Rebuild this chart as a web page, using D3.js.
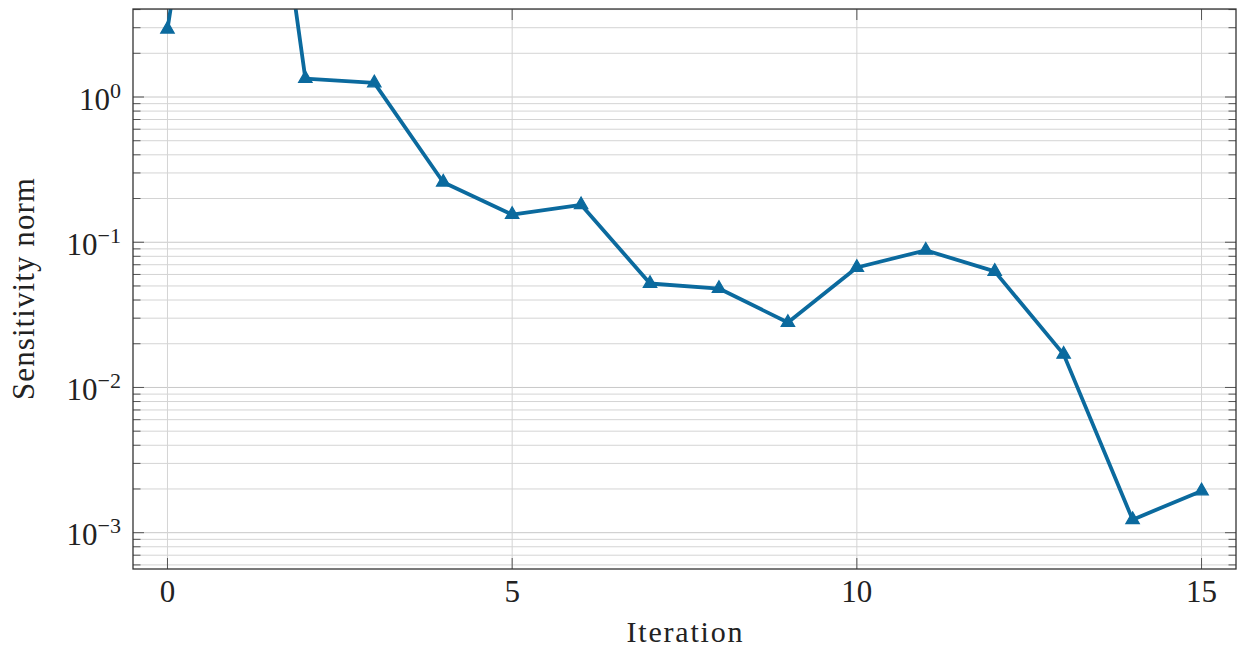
<!DOCTYPE html>
<html>
<head>
<meta charset="utf-8">
<script src="https://cdn.jsdelivr.net/npm/d3@7"></script>
<style>
  html, body { margin: 0; padding: 0; background: #fff; }
  svg { display: block; }
  text { font-family: "Liberation Serif", "DejaVu Serif", serif; fill: #222; }
</style>
</head>
<body>
<svg id="chart" width="1240" height="650"></svg>
<script>
// Optimisation history: sensitivity norm per iteration
const iterations = [0, 1, 2, 3, 4, 5, 6, 7, 8, 9, 10, 11, 12, 13, 14, 15];
const sensitivityNorm = [2.93, 3500, 1.34, 1.25, 0.259, 0.155, 0.181, 0.052, 0.048, 0.028,
                         0.067, 0.088, 0.063, 0.0169, 0.00123, 0.00194];
const xTicks = [0, 5, 10, 15];
const yMajorExponents = [-3, -2, -1, 0];

const color = "#0b6a9e";
const plot = { left: 133, right: 1236, top: 9, bottom: 569 };

const svg = d3.select("#chart");

const x = d3.scaleLinear().domain([-0.5, 15.5]).range([plot.left, plot.right]);
const y = d3.scaleLog().domain([Math.pow(10, -3.25), Math.pow(10, 0.606)]).range([plot.bottom, plot.top]);

// minor tick values: 2..9 × each decade inside the domain
const [yLo, yHi] = y.domain();
const yMinor = [];
for (let e = -4; e <= 0; e++) {
  for (let m = 2; m <= 9; m++) {
    const v = m * Math.pow(10, e);
    if (v >= yLo && v <= yHi) yMinor.push(v);
  }
}
const yMajor = yMajorExponents.map(e => Math.pow(10, e));

// grid
const grid = svg.append("g").attr("class", "grid");
grid.selectAll("line.ymin").data(yMinor).join("line")
  .attr("x1", plot.left).attr("x2", plot.right)
  .attr("y1", d => y(d)).attr("y2", d => y(d))
  .attr("stroke", "#d4d4d4").attr("stroke-width", 1);
grid.selectAll("line.ymaj").data(yMajor).join("line")
  .attr("x1", plot.left).attr("x2", plot.right)
  .attr("y1", d => y(d)).attr("y2", d => y(d))
  .attr("stroke", "#c8c8c8").attr("stroke-width", 1);
grid.selectAll("line.xg").data(xTicks).join("line")
  .attr("x1", d => x(d)).attr("x2", d => x(d))
  .attr("y1", plot.top).attr("y2", plot.bottom)
  .attr("stroke", "#d4d4d4").attr("stroke-width", 1);

// inward ticks on all four sides
const ticks = svg.append("g").attr("stroke", "#555").attr("stroke-width", 1);
const majorLen = 11, minorLen = 7.5;
yMajor.forEach(v => {
  ticks.append("line").attr("x1", plot.left).attr("x2", plot.left + majorLen).attr("y1", y(v)).attr("y2", y(v));
  ticks.append("line").attr("x1", plot.right).attr("x2", plot.right - majorLen).attr("y1", y(v)).attr("y2", y(v));
});
yMinor.forEach(v => {
  ticks.append("line").attr("x1", plot.left).attr("x2", plot.left + minorLen).attr("y1", y(v)).attr("y2", y(v));
  ticks.append("line").attr("x1", plot.right).attr("x2", plot.right - minorLen).attr("y1", y(v)).attr("y2", y(v));
});
xTicks.forEach(v => {
  ticks.append("line").attr("x1", x(v)).attr("x2", x(v)).attr("y1", plot.bottom).attr("y2", plot.bottom - majorLen);
  ticks.append("line").attr("x1", x(v)).attr("x2", x(v)).attr("y1", plot.top).attr("y2", plot.top + majorLen);
});

// data line and markers, clipped to the plot area
svg.append("clipPath").attr("id", "plotClip").append("rect")
  .attr("x", plot.left).attr("y", plot.top)
  .attr("width", plot.right - plot.left).attr("height", plot.bottom - plot.top);

const pts = iterations.map((it, i) => [it, sensitivityNorm[i]]);
const series = svg.append("g").attr("clip-path", "url(#plotClip)");
series.append("path")
  .datum(pts)
  .attr("d", d3.line().x(d => x(d[0])).y(d => y(d[1])))
  .attr("fill", "none").attr("stroke", color)
  .attr("stroke-width", 3.8).attr("stroke-linejoin", "round");

const r = 7.8;
const tri = `M0,${-r}L${r * Math.sqrt(3) / 2},${r / 2}L${-r * Math.sqrt(3) / 2},${r / 2}Z`;
series.selectAll("path.mark").data(pts).join("path")
  .attr("class", "mark")
  .attr("d", tri)
  .attr("transform", d => `translate(${x(d[0])},${y(d[1])})`)
  .attr("fill", color).attr("stroke", color).attr("stroke-width", 1.2)
  .attr("stroke-linejoin", "miter");

// frame
svg.append("rect")
  .attr("x", plot.left).attr("y", plot.top)
  .attr("width", plot.right - plot.left).attr("height", plot.bottom - plot.top)
  .attr("fill", "none").attr("stroke", "#333").attr("stroke-width", 1.3);

// x tick labels
svg.append("g").selectAll("text").data(xTicks).join("text")
  .attr("x", d => x(d)).attr("y", 602)
  .attr("text-anchor", "middle")
  .attr("font-size", 31)
  .text(d => d);

// y tick labels: 10^e
const yl = svg.append("g").selectAll("text").data(yMajorExponents).join("text")
  .attr("x", 121).attr("y", d => y(Math.pow(10, d)) + 12.8)
  .attr("text-anchor", "end")
  .attr("font-size", 31);
yl.append("tspan").text("10");
yl.append("tspan").attr("dy", -12).attr("font-size", 22)
  .text(d => d < 0 ? "\u2212" + (-d) : String(d));

// axis titles
svg.append("text")
  .attr("x", (plot.left + plot.right) / 2).attr("y", 642)
  .attr("text-anchor", "middle").attr("font-size", 30)
  .attr("textLength", 116).attr("lengthAdjust", "spacing")
  .text("Iteration");

svg.append("text")
  .attr("transform", `translate(34,${(plot.top + plot.bottom) / 2}) rotate(-90)`)
  .attr("text-anchor", "middle").attr("font-size", 31)
  .attr("textLength", 222).attr("lengthAdjust", "spacing")
  .text("Sensitivity norm");
</script>
</body>
</html>
